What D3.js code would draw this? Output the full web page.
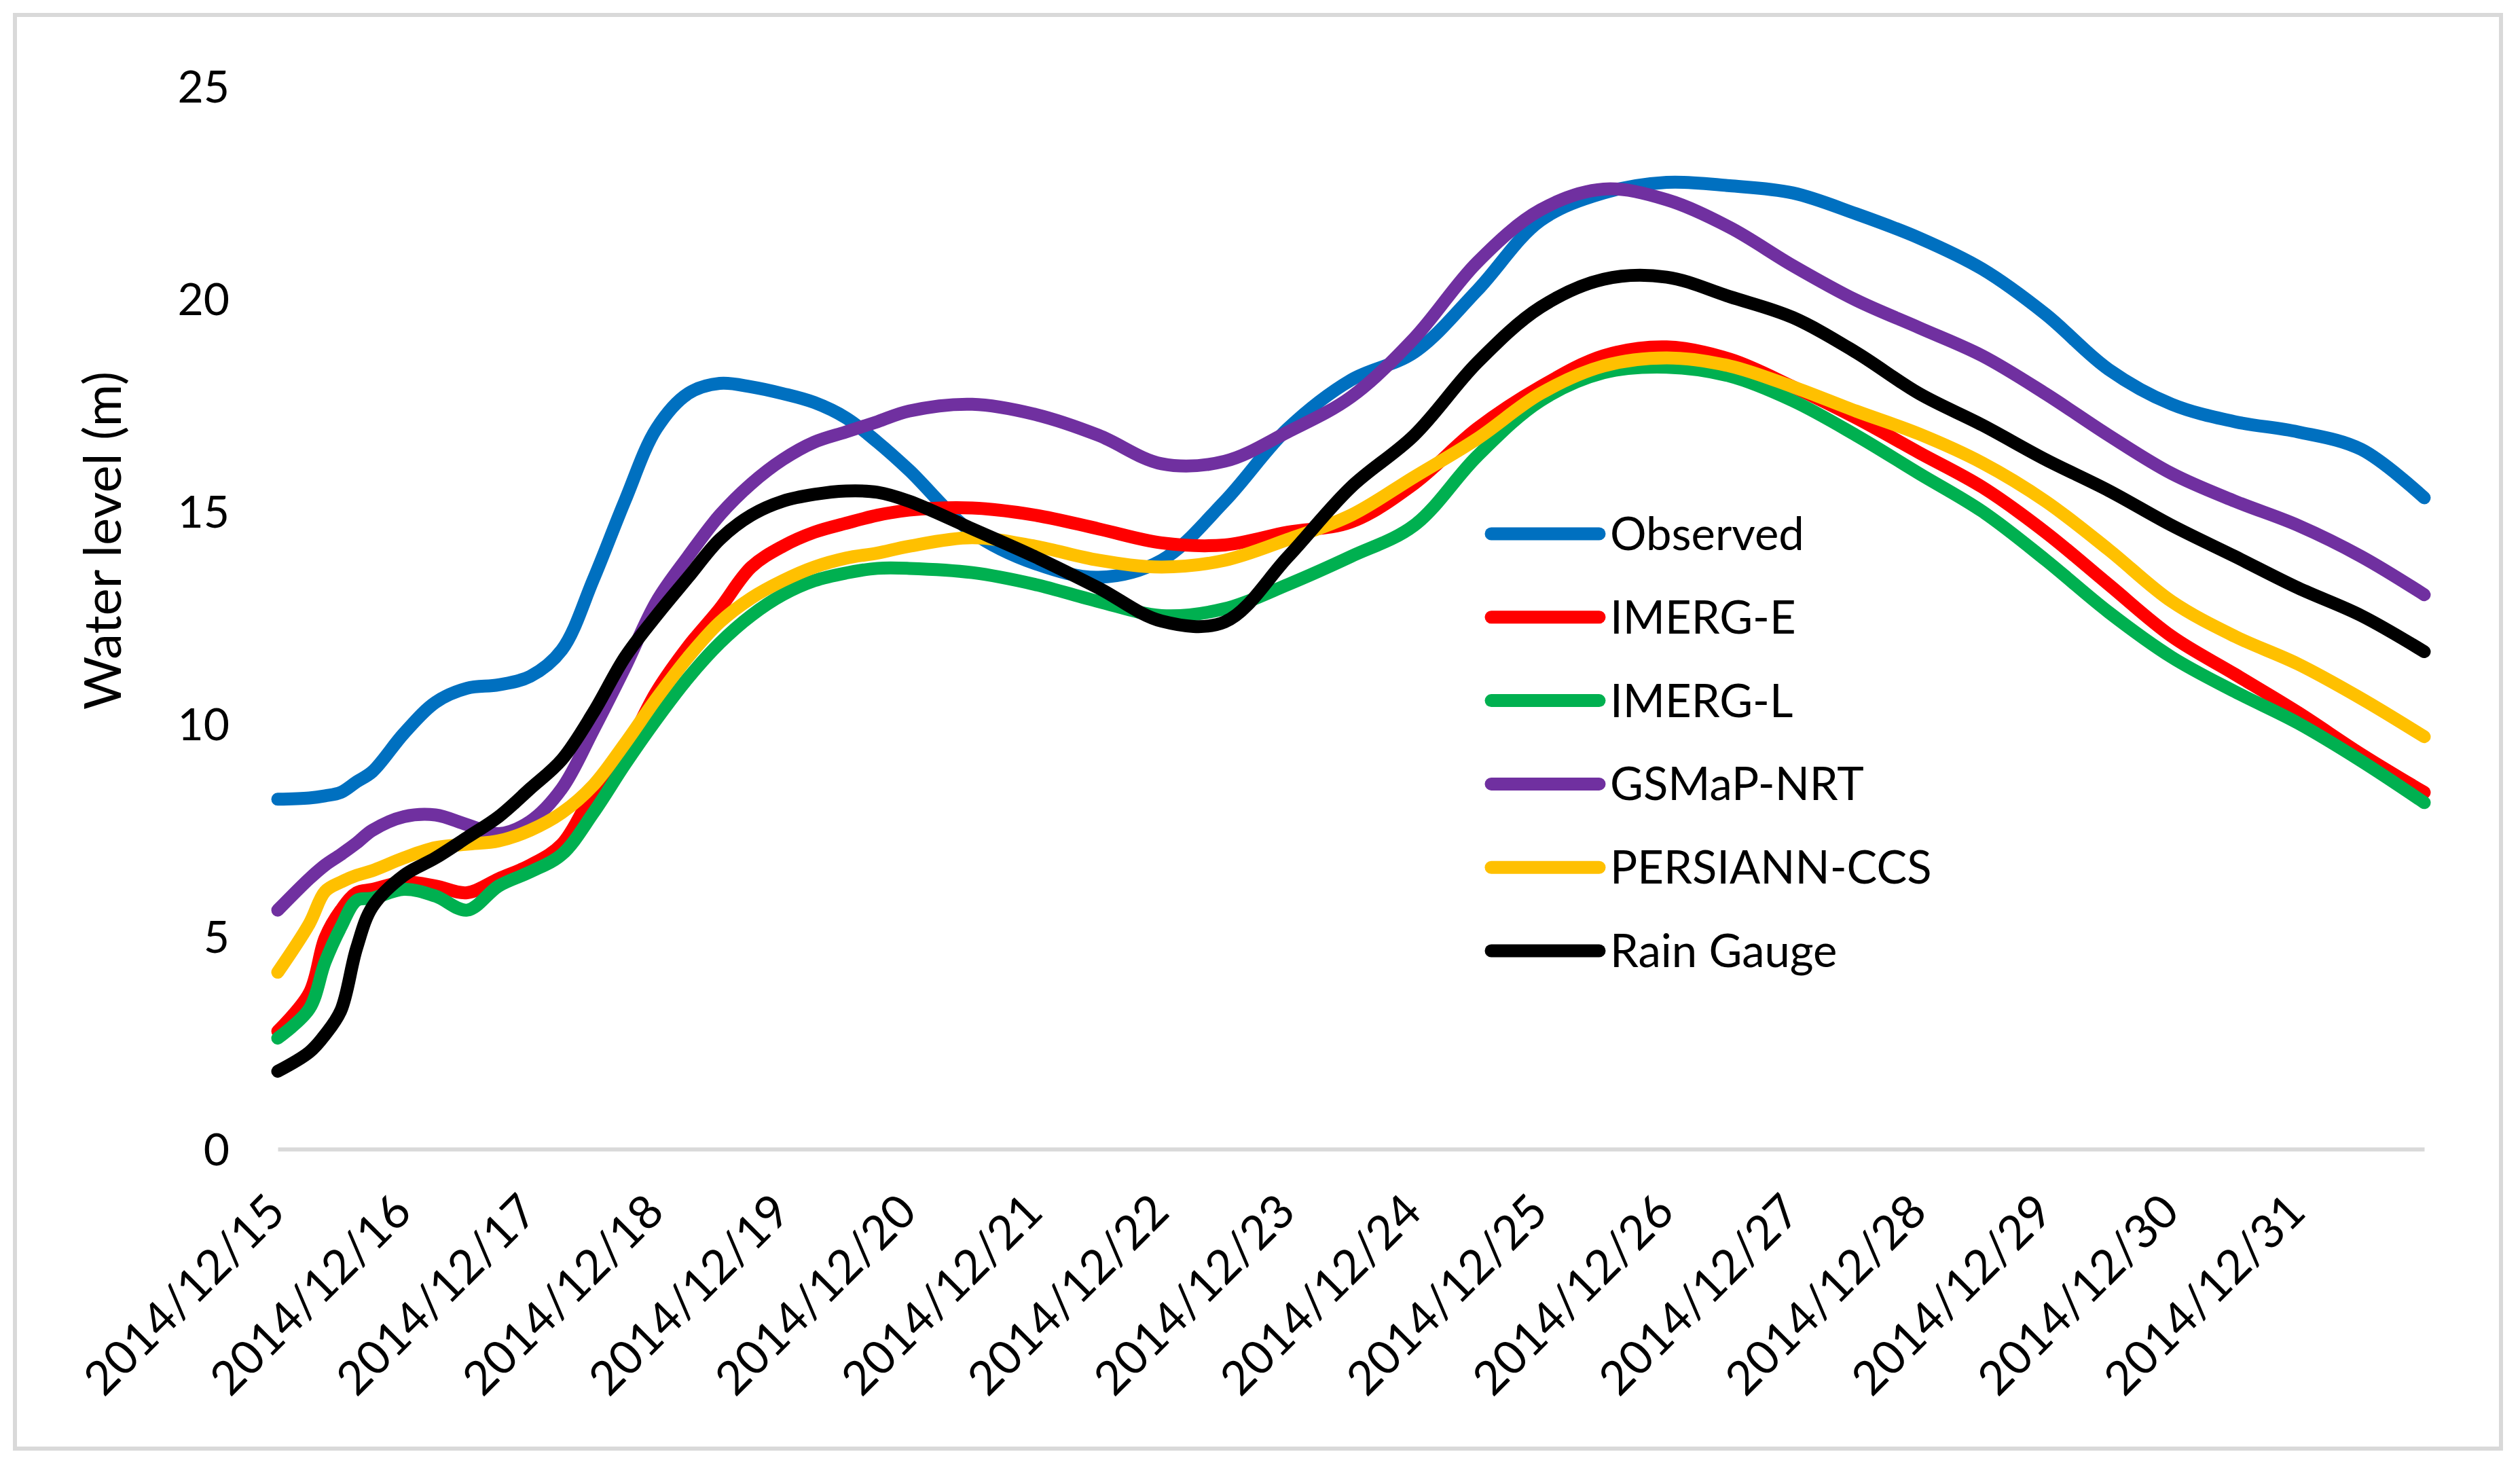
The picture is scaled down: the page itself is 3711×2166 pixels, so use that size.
<!DOCTYPE html>
<html lang="en">
<head>
<meta http-equiv="content-type" content="text/html; charset=UTF-8">
    <script src="https://d3js.org/d3.v7.min.js"></script>
    <style>
        body { margin: 0; background: #ffffff; }
        #plot text { font-family: Lato, "Open Sans", sans-serif; fill: #000000; }
    </style>
</head>
<body>
    <div id="plot">
        <script>
          // time of each reading, in days since 2014/12/15 00:00
          const days = [0, 0.25, 0.375, 0.5, 0.625, 0.75, 1, 1.25, 1.5, 1.75, 2, 2.25, 2.5, 2.75, 3, 3.25, 3.5, 3.75,
                        4, 4.25, 4.5, 4.75, 5, 5.5, 6, 6.5, 7, 7.5, 8, 8.5, 9, 9.5, 10, 10.5, 11, 11.5, 12, 12.5,
                        13, 13.5, 14, 14.5, 15, 15.5, 16, 16.5, 17];

          const dateLabels = ["2014/12/15", "2014/12/16", "2014/12/17", "2014/12/18", "2014/12/19", "2014/12/20",
                              "2014/12/21", "2014/12/22", "2014/12/23", "2014/12/24", "2014/12/25", "2014/12/26",
                              "2014/12/27", "2014/12/28", "2014/12/29", "2014/12/30", "2014/12/31"];

          const yTicks = [0, 5, 10, 15, 20, 25];

          const seriesNames = ["Observed", "IMERG-E", "IMERG-L", "GSMaP-NRT", "PERSIANN-CCS", "Rain Gauge"];
          const seriesColors = ["#0070C0", "#FF0000", "#00B050", "#7030A0", "#FFC000", "#000000"];

          // water level (m)
          const observed = [8.23, 8.26, 8.31, 8.39, 8.64, 8.88, 9.78, 10.51, 10.84, 10.92, 11.12, 11.74, 13.4, 15.25,
                            16.95, 17.77, 18.01, 17.93, 17.77, 17.56, 17.2, 16.63, 15.97, 14.51, 13.77, 13.45, 13.85,
                            15.24, 16.95, 18.09, 18.74, 20.2, 21.84, 22.49, 22.74, 22.66, 22.49, 22.0, 21.43, 20.7,
                            19.64, 18.34, 17.52, 17.11, 16.87, 16.46, 15.32];
          const imergE = [2.77, 3.67, 4.97, 5.62, 6.03, 6.11, 6.28, 6.19, 6.03, 6.36, 6.68, 7.17, 8.39, 9.37, 10.76,
                          11.82, 12.71, 13.69, 14.18, 14.51, 14.72, 14.91, 15.03, 15.08, 14.91, 14.59, 14.26, 14.21,
                          14.51, 14.75, 15.65, 16.95, 17.93, 18.66, 18.87, 18.58, 17.93, 17.2, 16.38, 15.57, 14.51,
                          13.28, 12.06, 11.17, 10.27, 9.29, 8.39];
          const imergL = [2.61, 3.3, 4.4, 5.22, 5.85, 5.9, 6.11, 5.95, 5.62, 6.19, 6.52, 6.93, 7.91, 9.05, 10.11,
                          11.08, 11.9, 12.55, 13.04, 13.37, 13.55, 13.66, 13.66, 13.56, 13.28, 12.88, 12.55, 12.71,
                          13.28, 13.94, 14.67, 16.3, 17.6, 18.26, 18.39, 18.18, 17.6, 16.79, 15.89, 15.0, 13.86,
                          12.63, 11.57, 10.76, 10.02, 9.13, 8.15];
          const gsmap = [5.62, 6.36, 6.68, 6.93, 7.2, 7.5, 7.82, 7.86, 7.63, 7.42, 7.71, 8.48, 9.86, 11.33, 12.88,
                         13.94, 14.91, 15.65, 16.22, 16.63, 16.87, 17.11, 17.36, 17.52, 17.28, 16.79, 16.12, 16.18,
                         16.87, 17.69, 19.07, 20.86, 22.09, 22.58, 22.33, 21.68, 20.78, 19.97, 19.32, 18.66, 17.77,
                         16.79, 15.89, 15.24, 14.67, 13.94, 13.04];
          const persiann = [4.16, 5.3, 6.06, 6.28, 6.44, 6.55, 6.85, 7.09, 7.17, 7.25, 7.5, 7.91, 8.56, 9.54, 10.6,
                            11.57, 12.39, 12.96, 13.37, 13.69, 13.9, 14.02, 14.18, 14.38, 14.18, 13.85, 13.69, 13.85,
                            14.34, 14.91, 15.81, 16.71, 17.77, 18.42, 18.61, 18.42, 17.93, 17.36, 16.82, 16.14, 15.24,
                            14.1, 12.88, 12.06, 11.41, 10.6, 9.7];
          const rainGauge = [1.83, 2.28, 2.69, 3.26, 4.73, 5.7, 6.44, 6.85, 7.33, 7.82, 8.48, 9.16, 10.27, 11.57,
                             12.55, 13.45, 14.34, 14.91, 15.24, 15.4, 15.48, 15.45, 15.24, 14.59, 13.93, 13.2, 12.42,
                             12.4, 13.93, 15.57, 16.79, 18.5, 19.8, 20.46, 20.51, 20.05, 19.56, 18.74, 17.77, 17.03,
                             16.22, 15.49, 14.67, 13.94, 13.2, 12.55, 11.7];

          const seriesValues = [observed, imergE, imergL, gsmap, persiann, rainGauge];

          function drawChart() {
            const width = 3711;
            const height = 2166;
            const plot = {left: 409, right: 3570, top: 127, bottom: 1692};

            const svg = d3.select('#plot').append('svg')
                .attr('width', width)
                .attr('height', height);

            // chart border
            svg.append('rect')
                .attr('x', 22).attr('y', 22)
                .attr('width', 3661).attr('height', 2111)
                .attr('fill', 'white')
                .attr('stroke', '#d9d9d9')
                .attr('stroke-width', 6);

            const x = d3.scaleLinear()
                .domain([0, dateLabels.length])
                .range([plot.left, plot.right]);

            const y = d3.scaleLinear()
                .domain([0, 25])
                .range([plot.bottom, plot.top]);

            // y axis: labels only
            const yAxis = g => g
                .attr('transform', `translate(${plot.left}, 0)`)
                .call(d3.axisLeft(y).tickValues(yTicks).tickSize(0).tickPadding(71))
                .call(g => g.select('.domain').remove())
                .call(g => g.selectAll('.tick text')
                    .attr('font-size', 66)
                    .attr('dy', '0.36em'));

            // x axis: light grey line, rotated date labels
            const xAxis = g => g
                .attr('transform', `translate(0, ${plot.bottom})`)
                .call(d3.axisBottom(x).tickValues(d3.range(dateLabels.length))
                    .tickFormat(i => dateLabels[i]).tickSize(0))
                .call(g => g.select('.domain')
                    .attr('stroke', '#d9d9d9')
                    .attr('stroke-width', 6))
                .call(g => g.selectAll('.tick text')
                    .attr('font-size', 69)
                    .attr('text-anchor', 'end')
                    .attr('x', 0).attr('y', 0).attr('dy', 0)
                    .attr('transform', 'translate(14, 96) rotate(-45)'));

            svg.append('g').call(yAxis);
            svg.append('g').call(xAxis);

            svg.append('text')
                .attr('transform', 'translate(178, 796) rotate(-90)')
                .attr('text-anchor', 'middle')
                .attr('font-size', 76)
                .text('Water level (m)');

            const line = d3.line()
                .x(d => x(d[0]))
                .y(d => y(d[1]))
                .curve(d3.curveCatmullRom.alpha(0.5));

            // series in drawing order, later ones on top
            seriesValues.forEach((vals, i) => {
              svg.append('path')
                  .datum(days.map((d, k) => [d, vals[k]]))
                  .attr('fill', 'none')
                  .attr('stroke', seriesColors[i])
                  .attr('stroke-width', 19)
                  .attr('stroke-linejoin', 'round')
                  .attr('stroke-linecap', 'round')
                  .attr('d', line);
            });

            // legend
            const legend = svg.append('g');
            const rowY = d3.scalePoint().domain(seriesNames).range([786, 1400]);
            seriesNames.forEach((name, i) => {
              legend.append('line')
                  .attr('x1', 2196).attr('x2', 2355)
                  .attr('y1', rowY(name)).attr('y2', rowY(name))
                  .attr('stroke', seriesColors[i])
                  .attr('stroke-width', 19)
                  .attr('stroke-linecap', 'round');
              legend.append('text')
                  .attr('x', 2371)
                  .attr('y', rowY(name) + 24)
                  .attr('font-size', 67)
                  .text(name);
            });
          }

          window.onload = drawChart;
        </script>
    </div>
</body>
</html>
